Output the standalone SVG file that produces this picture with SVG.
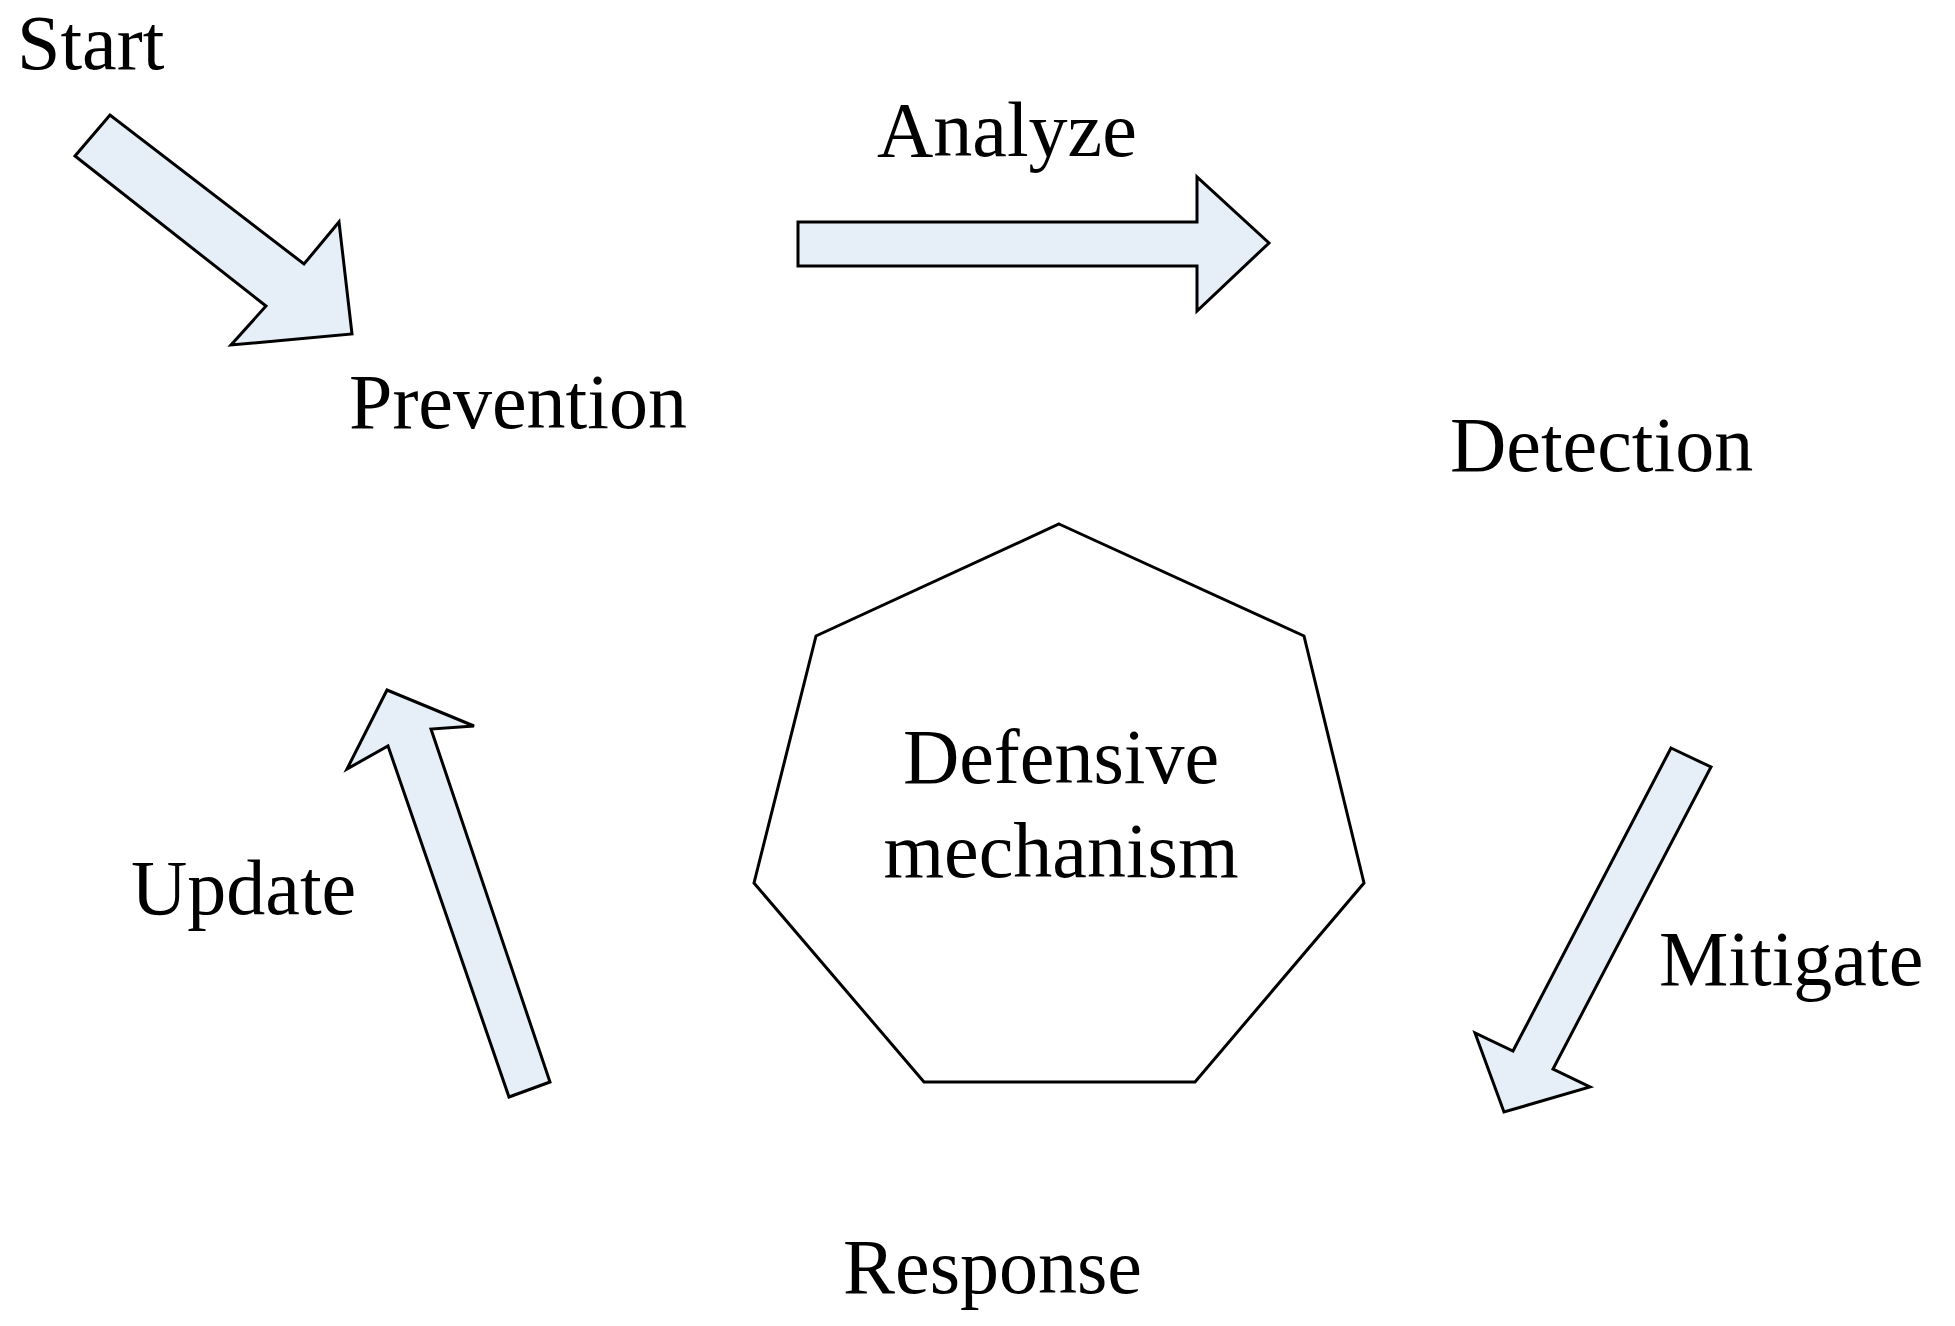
<svg xmlns="http://www.w3.org/2000/svg" width="1955" height="1326" viewBox="0 0 1955 1326">
<style>
text{font-family:"Liberation Serif","Times New Roman",serif;font-size:78px;fill:#000}
.arr{fill:#e6eef8;stroke:#000;stroke-width:3;stroke-linejoin:miter}
.hep{fill:#fff;stroke:#000;stroke-width:3}
</style>
<rect width="1955" height="1326" fill="#fff"/>
<g id="labels">
<text id="start" x="17" y="69">Start</text>
<text id="prevention" x="349" y="428">Prevention</text>
<text id="analyze" x="877" y="156">Analyze</text>
<text id="detection" x="1450" y="471">Detection</text>
<text id="mitigate" x="1659" y="985">Mitigate</text>
<text id="response" x="843" y="1293">Response</text>
<text id="update" x="131" y="914">Update</text>
</g>
<g id="center">
<polygon class="hep" points="1059,524 1304,636 1364,883 1195,1082 924,1082 754,883 816,636"/>
<text x="1061" y="783" text-anchor="middle">Defensive</text>
<text x="1061" y="877" text-anchor="middle">mechanism</text>
</g>
<g id="connectors">
<polygon class="arr" points="75,156 110,115 304,264 339,222 352,334 231,345 266,306"/>
<polygon class="arr" points="798,222 1197,222 1197,177 1269,243 1197,311 1197,266 798,266"/>
<polygon class="arr" points="1671,748 1711,767 1553,1069 1590,1087 1504,1112 1475,1033 1513,1051"/>
<polygon class="arr" points="509,1097 550,1082 431,729 474,726 387,690 347,769 388,746"/>
</g>
</svg>
